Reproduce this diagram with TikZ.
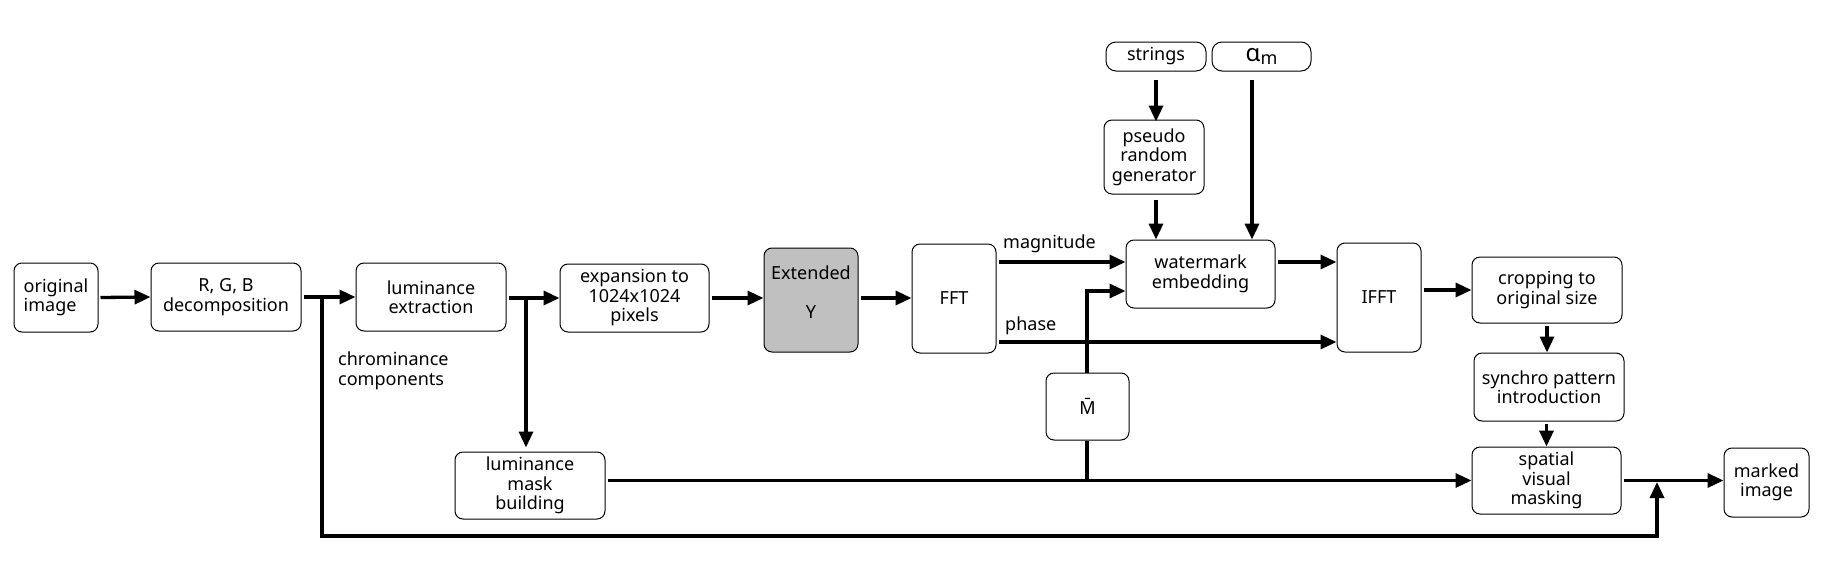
\documentclass[tikz,border=0pt]{standalone}
\usepackage{fontspec}
\setmainfont{Noto Sans}
\usetikzlibrary{arrows.meta,calc}
\definecolor{extgray}{RGB}{192,192,192}
\begin{document}
\begin{tikzpicture}[x=1pt,y=-1pt,
  box/.style={draw,rounded corners=8pt,line width=1pt,align=center,inner sep=0pt,font=\fontsize{18}{19.5}\selectfont},
  conn/.style={line width=3.3pt,-{Triangle[length=16pt,width=14pt]}},
  wire/.style={line width=3.3pt},
  lbl/.style={font=\fontsize{18}{19.5}\selectfont,inner sep=0pt,align=left}]
\useasboundingbox (0,0) rectangle (1840,568);

% boxes
\node[box,align=left,minimum width=84pt,minimum height=69pt] (orig) at (56,297.5) {original\\image};
\node[box,minimum width=150pt,minimum height=68pt] (rgb) at (226,297) {R, G, B\\decomposition};
\node[box,minimum width=150pt,minimum height=68pt] (lumx) at (431,297) {luminance\\extraction};
\node[box,minimum width=149pt,minimum height=68pt] (expn) at (634.5,298) {expansion to\\1024x1024\\pixels};
\node[box,fill=extgray,minimum width=94pt,minimum height=104pt,
      label={[lbl,align=center,yshift=8pt]center:{Extended\\[19pt]Y}}] (exty) at (811,300) {\phantom{Y}};
\node[box,minimum width=84pt,minimum height=109pt] (fft) at (954,298.5) {FFT};
\node[box,minimum width=149pt,minimum height=68pt] (wm) at (1200.5,274) {watermark\\embedding};
\node[box,minimum width=84pt,minimum height=109pt] (ifft) at (1379,297.5) {IFFT};
\node[box,minimum width=150pt,minimum height=66pt] (crop) at (1547,290) {cropping to\\original size};
\node[box,minimum width=150pt,minimum height=68pt] (sync) at (1549,387) {synchro pattern\\introduction};
\node[box,minimum width=149pt,minimum height=67pt] (spat) at (1546.5,480.5) {spatial\\visual\\masking};
\node[box,minimum width=85pt,minimum height=69pt] (mark) at (1766.5,482.5) {marked\\image};
\node[box,minimum width=150pt,minimum height=67pt] (mask) at (530,485.5) {luminance\\mask\\building};
\node[box,minimum width=83pt,minimum height=67pt] (mbar) at (1087.5,406.5) {M̄};
\node[box,rounded corners=10pt,minimum width=100pt,minimum height=29pt] (str) at (1156,56.5) {strings};
\node[box,rounded corners=10pt,minimum width=99pt,minimum height=29pt] (alpha) at (1261.5,56.5) {{\fontsize{24}{24}\selectfont α}\raisebox{-3pt}{m}};
\node[box,minimum width=100pt,minimum height=74pt] (prng) at (1154,157) {pseudo\\random\\generator};

% labels
\node[lbl,anchor=base west] (lmag) at (1003,248) {magnitude};
\node[lbl,anchor=base west] (lph) at (1005,330) {phase};
\node[lbl,anchor=west] (lchr) at (338,371) {chrominance\\components};

% junctions
\coordinate (j1) at (322,297);
\coordinate (b1) at (322,536);
\coordinate (b2) at (1657,536);
\coordinate (b3) at (1657,482);
\coordinate (j2) at (526,298);
\coordinate (jm) at (1087,480.5);
\coordinate (mt) at (1087,291);
\coordinate (mg) at (1000,262);
\coordinate (ph) at (1000,342);
\coordinate (ax) at (1252,0);

% connectors
\draw[conn] (orig.east) ++(2,0) -- (rgb.west);
\draw[conn] (rgb.east) ++(2,0) -- (lumx.west);
\draw[wire,line join=miter] (j1) -- (b1) -- (b2) -- ++(0,-10);
\draw[conn] (b2) -- (b3);
\draw[conn] (lumx.east |- j2) ++(2,0) -- (expn.west |- j2);
\draw[conn] (j2) -- ([yshift=4pt]j2 |- mask.north);
\draw[conn] (expn.east) ++(2,0) -- (exty.west |- expn.east);
\draw[conn] (exty.east |- expn.east) ++(2,0) -- (fft.west |- expn.east);
\draw[conn] (fft.east |- mg) ++(2,0) -- (wm.west |- mg);
\draw[conn] (fft.east |- ph) ++(2,0) -- (ifft.west |- ph);
\draw[conn] (wm.east |- mg) ++(2,0) -- (ifft.west |- mg);
\draw[conn] (ifft.east |- crop.west) ++(2,0) -- (crop.west);
\draw[conn] (crop.south) ++(0,2) -- (sync.north -| crop.south);
\draw[conn] (sync.south -| spat.north) ++(0,2) -- (spat.north);
\draw[conn] (mask.east |- spat.west) ++(2,0) -- (spat.west);
\draw[wire] (jm) -- (mbar.south -| jm);
\draw[conn,line join=miter] (mbar.north -| jm) -- (mt) -- (mt -| wm.west);
\draw[conn] (spat.east) ++(2,0) -- (mark.west |- spat.east);
\draw[conn] (str.south) ++(0,8) -- ([yshift=-2pt]prng.north -| str.south);
\draw[conn] (prng.south -| str.south) ++(0,5) -- (wm.north -| str.south);
\draw[conn] ([yshift=-8pt]alpha.south -| ax) -- (wm.north -| ax);
\end{tikzpicture}
\end{document}
